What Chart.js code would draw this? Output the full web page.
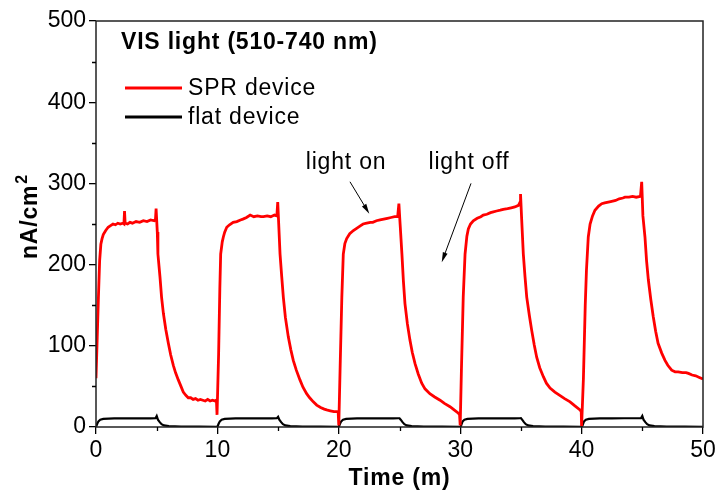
<!DOCTYPE html>
<html>
<head>
<meta charset="utf-8">
<script src="https://cdn.jsdelivr.net/npm/chart.js@4.4.1/dist/chart.umd.min.js"></script>
<style>
  html, body { margin: 0; padding: 0; background: #fff; }
  #wrap { width: 719px; height: 493px; }
</style>
</head>
<body>
<div id="wrap"><canvas id="c" width="719" height="493"></canvas></div>
<script>
// ---- data ----
const seriesNames = ["SPR device", "flat device"];
const xTicks = [0, 10, 20, 30, 40, 50];
const yTicks = [0, 100, 200, 300, 400, 500];

const sprTime = [
  0, 0.1, 0.2, 0.3, 0.4, 0.5, 0.6, 0.8, 1.0, 1.2, 1.4, 1.6, 1.8, 2.0, 2.2, 2.3, 2.35, 2.4, 2.6, 2.8, 3.0, 3.3, 3.6, 3.9, 4.2, 4.5, 4.8, 4.9, 4.95, 5.05,
  5.1, 5.27, 5.4, 5.55, 5.75, 5.96, 6.15, 6.37, 6.55, 6.78, 7.0, 7.19, 7.4, 7.6, 7.8, 8.0, 8.2, 8.4, 8.6, 8.8, 9.0, 9.2, 9.4, 9.6, 9.8, 9.92, 9.97,
  10.1, 10.2, 10.27, 10.4, 10.49, 10.6, 10.77, 11.0, 11.3, 11.6, 11.9, 12.1, 12.4, 12.7, 13.0, 13.3, 13.6, 13.8, 14.1, 14.4, 14.7, 14.9, 14.97, 15.05,
  15.16, 15.3, 15.43, 15.6, 15.84, 16.05, 16.25, 16.5, 16.8, 17.05, 17.35, 17.6, 17.9, 18.18, 18.5, 18.8, 19.0, 19.3, 19.6, 19.85, 19.95, 20.0,
  20.12, 20.25, 20.37, 20.5, 20.65, 20.9, 21.2, 21.5, 21.8, 22.0, 22.3, 22.6, 22.8, 23.1, 23.4, 23.7, 24.0, 24.3, 24.6, 24.85, 24.95, 25.05,
  25.2, 25.32, 25.45, 25.65, 25.86, 26.05, 26.28, 26.55, 26.83, 27.1, 27.5, 27.9, 28.34, 28.7, 29.16, 29.5, 29.85, 29.95, 30.0,
  30.1, 30.25, 30.4, 30.55, 30.67, 30.85, 31.08, 31.4, 31.7, 31.9, 32.2, 32.5, 32.73, 33.0, 33.3, 33.55, 33.9, 34.2, 34.5, 34.8, 34.93, 34.97, 35.05,
  35.2, 35.34, 35.48, 35.7, 35.89, 36.1, 36.3, 36.55, 36.85, 37.1, 37.4, 37.8, 38.2, 38.6, 39.05, 39.45, 39.87, 39.97, 40.0,
  40.15, 40.3, 40.4, 40.55, 40.7, 40.9, 41.1, 41.4, 41.66, 41.9, 42.2, 42.48, 42.8, 43.1, 43.4, 43.57, 43.9, 44.2, 44.5, 44.85, 44.95, 45.05,
  45.22, 45.35, 45.5, 45.7, 45.9, 46.1, 46.3, 46.6, 46.87, 47.1, 47.42, 47.7, 47.96, 48.3, 48.6, 48.8, 49.1, 49.4, 49.7, 50.0
];
const sprValues = [
  60, 110, 160, 205, 225, 232, 237, 242, 246, 248, 250, 249, 251, 250, 251, 250, 266, 251, 250, 252, 251, 253, 252, 254, 253, 255, 254, 256, 269, 240,
  213, 185, 160, 140, 120, 103, 89, 76, 67, 58, 50, 43, 39, 36, 36, 34, 35, 33, 34, 33, 32, 34, 32, 33, 32, 33, 15,
  90, 170, 213, 228, 234, 240, 246, 249, 252, 253, 255, 256, 258, 261, 259, 260, 259, 259, 260, 259, 261, 260, 277, 250,
  213, 185, 160, 135, 111, 95, 82, 70, 58, 49, 41, 36, 31, 27, 24, 22, 21, 20, 19, 19, 18, 2,
  80, 160, 213, 226, 232, 238, 242, 245, 248, 250, 251, 252, 252, 254, 255, 256, 257, 258, 259, 259, 275, 250,
  213, 180, 152, 127, 107, 92, 78, 65, 54, 47, 41, 37, 33, 29, 25, 21, 17, 15, 2,
  70, 160, 213, 235, 244, 250, 254, 257, 259, 261, 262, 264, 265, 266, 267, 268, 269, 270, 271, 273, 277, 287, 260,
  213, 185, 160, 137, 119, 101, 86, 73, 62, 54, 48, 43, 39, 35, 31, 26, 21, 19, 1,
  60, 150, 193, 234, 250, 260, 267, 272, 275, 276, 277, 278, 279, 281, 282, 283, 283, 284, 283, 284, 302, 260,
  234, 205, 181, 157, 136, 118, 103, 91, 82, 76, 70, 68, 68, 67, 67, 66, 64, 63, 61, 59
];

const flatTime = [
  0, 0.1, 0.2, 0.35, 0.6, 1.5, 2.5, 3.5, 4.5, 4.9, 5.0, 5.1, 5.25, 5.4, 5.6, 6.0, 7.0, 8.5, 9.9,
  10.0, 10.1, 10.2, 10.35, 10.6, 11.5, 12.5, 13.5, 14.5, 14.9, 15.0, 15.1, 15.25, 15.4, 15.6, 16.0, 17.0, 18.5, 19.9,
  20.0, 20.1, 20.2, 20.35, 20.6, 21.5, 22.5, 23.5, 24.5, 24.9, 25.0, 25.1, 25.25, 25.4, 25.6, 26.0, 27.0, 28.5, 29.9,
  30.0, 30.1, 30.2, 30.35, 30.6, 31.5, 32.5, 33.5, 34.5, 34.9, 35.0, 35.1, 35.25, 35.4, 35.6, 36.0, 37.0, 38.5, 39.9,
  40.0, 40.1, 40.2, 40.35, 40.6, 41.5, 42.5, 43.5, 44.5, 44.9, 45.0, 45.1, 45.25, 45.4, 45.6, 46.0, 47.0, 48.5, 50.0
];
const flatValues = [
  0, 4, 7, 9, 10, 10.5, 10.5, 10.8, 10.6, 10.8, 13.5, 9, 6, 3.5, 2, 1, 0.6, 0.4, 0.3,
  0, 4, 7, 9, 10, 10.5, 10.6, 10.7, 10.6, 10.8, 12.5, 9, 6, 3.5, 2, 1, 0.6, 0.4, 0.3,
  0, 4, 7, 9, 10, 10.5, 10.7, 10.6, 10.7, 10.8, 10.8, 9, 6, 3.5, 2, 1, 0.6, 0.4, 0.3,
  -1.5, 3, 7, 9, 10, 10.5, 10.6, 10.7, 10.6, 10.8, 10.9, 9, 6, 3.5, 2, 1, 0.6, 0.4, 0.3,
  -1.5, 3, 7, 9, 10, 10.6, 10.7, 10.8, 10.8, 10.9, 13.5, 9, 6, 3.5, 2, 1, 0.6, 0.4, 0.3
];

const FONT = "'Liberation Sans', Arial, Helvetica, sans-serif";

function pts(xs, ys) { return xs.map((x, i) => ({ x: x, y: ys[i] })); }

function arrow(ctx, x1, y1, x2, y2, headLen, headW) {
  const ang = Math.atan2(y2 - y1, x2 - x1);
  ctx.beginPath();
  ctx.moveTo(x1, y1);
  ctx.lineTo(x2 - Math.cos(ang) * headLen * 0.8, y2 - Math.sin(ang) * headLen * 0.8);
  ctx.stroke();
  ctx.beginPath();
  ctx.moveTo(x2, y2);
  ctx.lineTo(x2 - Math.cos(ang) * headLen + Math.sin(ang) * headW / 2,
             y2 - Math.sin(ang) * headLen - Math.cos(ang) * headW / 2);
  ctx.lineTo(x2 - Math.cos(ang) * headLen - Math.sin(ang) * headW / 2,
             y2 - Math.sin(ang) * headLen + Math.cos(ang) * headW / 2);
  ctx.closePath();
  ctx.fill();
}

const deco = {
  id: 'deco',
  afterDraw(chart) {
    const { ctx, chartArea: a, scales } = chart;
    const xs = scales.x, ys = scales.y;
    ctx.save();
    // frame
    ctx.strokeStyle = '#222';
    ctx.lineWidth = 1.5;
    ctx.strokeRect(a.left, a.top, a.right - a.left, a.bottom - a.top);
    // minor ticks
    ctx.strokeStyle = '#000';
    ctx.lineWidth = 1.3;
    ctx.beginPath();
    for (let v = 5; v < 50; v += 10) {
      const px = Math.round(xs.getPixelForValue(v)) + 0.5;
      ctx.moveTo(px, a.bottom); ctx.lineTo(px, a.bottom + 4);
    }
    for (let v = 50; v < 500; v += 100) {
      const py = Math.round(ys.getPixelForValue(v)) + 0.5;
      ctx.moveTo(a.left, py); ctx.lineTo(a.left - 4, py);
    }
    ctx.stroke();

    if ('letterSpacing' in ctx) ctx.letterSpacing = '0.8px';

    // inset title
    ctx.fillStyle = '#000';
    ctx.textBaseline = 'middle';
    ctx.textAlign = 'left';
    ctx.font = "bold 23px " + FONT;
    ctx.fillText("VIS light (510-740 nm)", a.left + 25, a.top + 22);

    // legend
    const ds = chart.data.datasets;
    ctx.font = "23px " + FONT;
    const legY = [a.top + 67, a.top + 96];
    ds.forEach((d, i) => {
      ctx.strokeStyle = d.borderColor;
      ctx.lineWidth = 2.8;
      ctx.beginPath();
      ctx.moveTo(a.left + 29, legY[i]);
      ctx.lineTo(a.left + 86, legY[i]);
      ctx.stroke();
      ctx.fillStyle = '#000';
      ctx.fillText(d.label, a.left + 92, legY[i] + 1);
    });

    // annotations
    ctx.font = "23px " + FONT;
    ctx.textAlign = 'center';
    ctx.fillText("light on", xs.getPixelForValue(20.6), ys.getPixelForValue(325));
    ctx.fillText("light off", xs.getPixelForValue(30.72), ys.getPixelForValue(325));
    ctx.strokeStyle = '#000';
    ctx.fillStyle = '#000';
    ctx.lineWidth = 1;
    arrow(ctx, xs.getPixelForValue(20.92), ys.getPixelForValue(302),
               xs.getPixelForValue(22.51), ys.getPixelForValue(262.7), 10, 5);
    arrow(ctx, xs.getPixelForValue(30.89), ys.getPixelForValue(300),
               xs.getPixelForValue(28.48), ys.getPixelForValue(203), 10, 5);

    // x-axis title
    ctx.font = "bold 23px " + FONT;
    ctx.textAlign = 'center';
    ctx.textBaseline = 'alphabetic';
    ctx.fillText("Time (m)", (a.left + a.right) / 2, a.bottom + 58);

    // y-axis title with superscript
    ctx.save();
    ctx.translate(37, 259);
    ctx.rotate(-Math.PI / 2);
    ctx.textAlign = 'left';
    ctx.font = "bold 23px " + FONT;
    ctx.fillText("nA/cm", 0, 0);
    const w = ctx.measureText("nA/cm").width;
    ctx.font = "bold 16px " + FONT;
    ctx.fillText("2", w + 1, -10);
    ctx.restore();

    if ('letterSpacing' in ctx) ctx.letterSpacing = '0px';
    ctx.restore();
  }
};

const chart = new Chart(document.getElementById('c'), {
  type: 'line',
  data: {
    datasets: [
      { label: seriesNames[0], data: pts(sprTime, sprValues), borderColor: '#ff0000',
        borderWidth: 2.8, pointRadius: 0, tension: 0, fill: false },
      { label: seriesNames[1], data: pts(flatTime, flatValues), borderColor: '#000000',
        borderWidth: 2.2, pointRadius: 0, tension: 0, fill: false }
    ]
  },
  options: {
    responsive: false,
    animation: false,
    devicePixelRatio: 1,
    layout: { padding: { left: 0, right: 16, top: 21, bottom: 0 } },
    plugins: { legend: { display: false }, tooltip: { enabled: false } },
    scales: {
      x: {
        type: 'linear', min: 0, max: 50,
        afterBuildTicks(s) { s.ticks = xTicks.map(v => ({ value: v })); },
        afterFit(s) { s.height = 66; },
        ticks: { color: '#000', font: { size: 23, family: FONT }, padding: 3, maxRotation: 0 },
        grid: { display: true, drawOnChartArea: false, drawTicks: true, tickLength: 7, color: '#000', lineWidth: 1.3 },
        border: { display: false }
      },
      y: {
        min: 0, max: 500,
        afterBuildTicks(s) { s.ticks = yTicks.map(v => ({ value: v })); },
        afterFit(s) { s.width = 96; },
        ticks: { color: '#000', font: { size: 23, family: FONT }, padding: 3 },
        grid: { display: true, drawOnChartArea: false, drawTicks: true, tickLength: 7, color: '#000', lineWidth: 1.3 },
        border: { display: false }
      }
    }
  },
  plugins: [deco]
});
</script>
</body>
</html>
